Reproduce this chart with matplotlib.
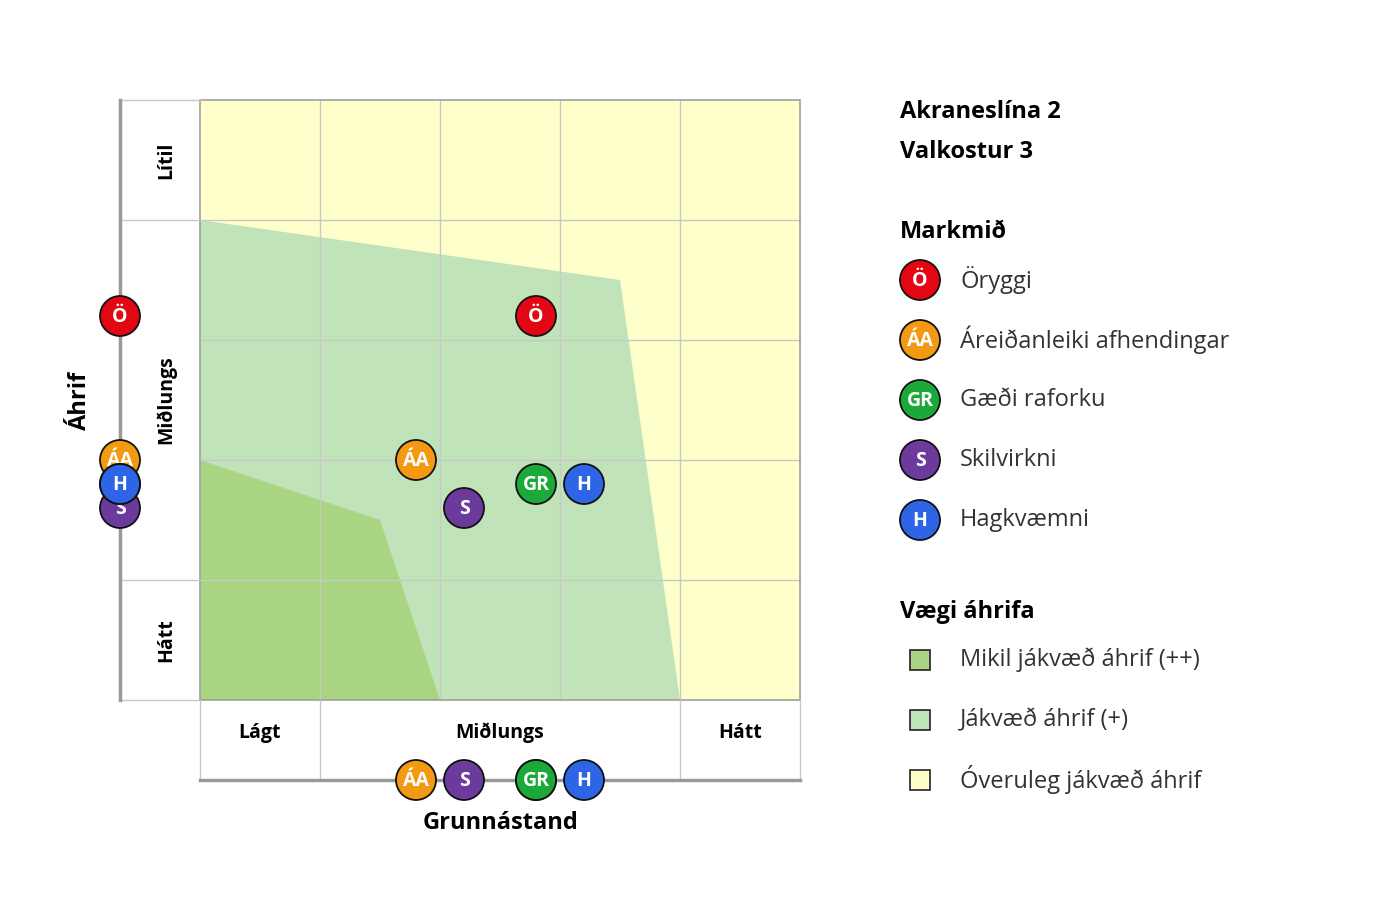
import matplotlib.pyplot as plt
from matplotlib.patches import Polygon, Rectangle, Circle

plt.rcParams["font.family"] = ["Open Sans", "DejaVu Sans"]

# data in grid units (0..5), x = grunnástand, y = áhrif (0 = top)
codes = ["Ö", "ÁA", "S", "GR", "H"]
legend_codes = ["Ö", "ÁA", "GR", "S", "H"]
legend_names = ["Öryggi", "Áreiðanleiki afhendingar", "Gæði raforku", "Skilvirkni", "Hagkvæmni"]
colors = {"Ö": "#E30613", "ÁA": "#F39A12", "S": "#6C3A9C", "GR": "#1BAA3A", "H": "#2E64E6"}
x_vals = [2.8, 1.8, 2.2, 2.8, 3.2]
y_vals = [1.8, 3.0, 3.4, 3.2, 3.2]

zone_light = [(0, 1.0), (3.5, 1.5), (4.0, 5.0), (0, 5.0)]
zone_dark = [(0, 3.0), (1.5, 3.5), (2.0, 5.0), (0, 5.0)]
weights = ["Mikil jákvæð áhrif (++)", "Jákvæð áhrif (+)", "Óveruleg jákvæð áhrif"]
weight_colors = ["#A9D582", "#C1E3BA", "#FFFFCC"]

X0, Y0, C = 200, 100, 120


def px(gx, gy):
    return X0 + C * gx, Y0 + C * gy


fig = plt.figure(figsize=(14, 9), dpi=100)
ax = fig.add_axes([0, 0, 1, 1])
ax.set_xlim(0, 1400)
ax.set_ylim(900, 0)
ax.axis("off")

ax.add_patch(Rectangle((X0, Y0), 5 * C, 5 * C, color=weight_colors[2], zorder=0))
ax.add_patch(Polygon([px(*p) for p in zone_light], color=weight_colors[1], lw=0, zorder=1))
ax.add_patch(Polygon([px(*p) for p in zone_dark], color=weight_colors[0], lw=0, zorder=1))

grid = "#C8C8C8"
for i in range(1, 5):
    ax.plot([X0 + C * i] * 2, [Y0, Y0 + 5 * C], color=grid, lw=1, zorder=2)
    ax.plot([X0, X0 + 5 * C], [Y0 + C * i] * 2, color=grid, lw=1, zorder=2)
ax.add_patch(Rectangle((X0, Y0), 5 * C, 5 * C, fill=False, ec="#A0A0A0", lw=1.2, zorder=2))
# label column / row borders
for y in (100, 220, 580, 700):
    ax.plot([120, 200], [y, y], color=grid, lw=1, zorder=2)
for x in (200, 320, 680, 800):
    ax.plot([x, x], [700, 780], color=grid, lw=1, zorder=2)
ax.plot([120, 120], [100, 700], color="#999999", lw=2.5, zorder=2)
ax.plot([200, 800], [780, 780], color="#999999", lw=2.5, zorder=2)

for txt, y in [("Lítil", 160), ("Miðlungs", 400), ("Hátt", 640)]:
    ax.text(166, y, txt, rotation=90, ha="center", va="center", fontsize=14, fontweight="bold")
for txt, x in [("Lágt", 260), ("Miðlungs", 500), ("Hátt", 740)]:
    ax.text(x, 733, txt, ha="center", va="center", fontsize=14, fontweight="bold")
ax.text(80, 400, "Áhrif", rotation=90, ha="center", va="center", fontsize=17, fontweight="bold")
ax.text(500, 823, "Grunnástand", ha="center", va="center", fontsize=17, fontweight="bold")


def marker(x, y, code, z=5):
    ax.add_patch(Circle((x, y), 20, fc=colors[code], ec="#111111", lw=1.3, zorder=z))
    ax.text(x, y + 1, code, ha="center", va="center", color="white", fontsize=14,
            fontweight="bold", zorder=z + 0.5)


for i, (code, gx, gy) in enumerate(zip(codes, x_vals, y_vals)):
    X, Y = px(gx, gy)
    marker(X, Y, code, 5 + i)
    marker(120, Y, code, 5 + i)
    marker(X, 780, code, 5 + i)

ax.text(900, 112, "Akraneslína 2", ha="left", va="center", fontsize=17, fontweight="bold")
ax.text(900, 152, "Valkostur 3", ha="left", va="center", fontsize=17, fontweight="bold")
ax.text(900, 232, "Markmið", ha="left", va="center", fontsize=17, fontweight="bold")
for i, (code, name) in enumerate(zip(legend_codes, legend_names)):
    y = 280 + 60 * i
    marker(920, y, code)
    ax.text(960, y, name, ha="left", va="center", fontsize=17, color="#333333")

ax.text(900, 612, "Vægi áhrifa", ha="left", va="center", fontsize=17, fontweight="bold")
for i, (lbl, col) in enumerate(zip(weights, weight_colors)):
    y = 660 + 60 * i
    ax.add_patch(Rectangle((910, y - 10), 20, 20, fc=col, ec="#222222", lw=1.2))
    ax.text(960, y, lbl, ha="left", va="center", fontsize=17, color="#333333")

fig.savefig("out.png", dpi=100)
